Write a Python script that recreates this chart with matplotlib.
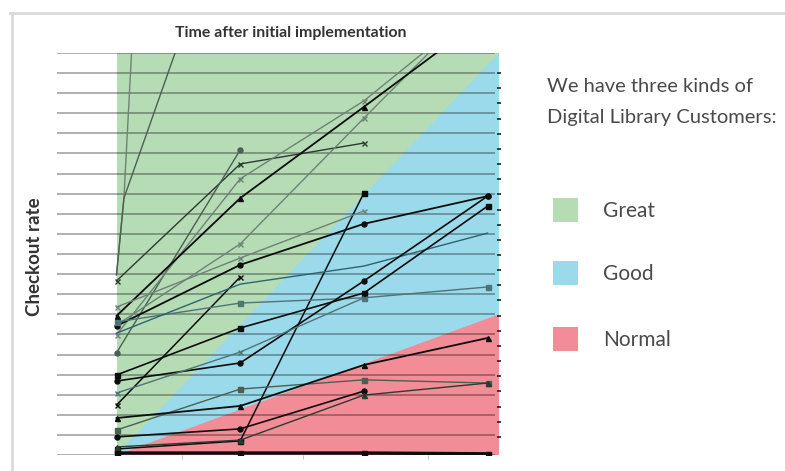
import numpy as np
import matplotlib
matplotlib.use("Agg")
import matplotlib.pyplot as plt
from matplotlib.patches import Rectangle, Polygon
from matplotlib.lines import Line2D

plt.rcParams['font.family'] = ['Lato', 'DejaVu Sans']

# ---------------- data ----------------
times = [0, 1, 2, 3]
early_times = [0, 0.06, 1]
nan = np.nan

# checkout rate (0-100 scale) of each library customer over time
steep_a = [44.8, 63.9, 616]
steep_b = [44.8, 63.9, 146]
cust_03 = [43.3, 72.4, 77.6, nan]
cust_04 = [25.4, 75.9, nan, nan]
cust_05 = [29.9, 68.7, 88.1, 113]
cust_06 = [32.3, 52.5, 83.8, 114.7]
cust_07 = [34.6, 63.9, 86.6, 109.5]
cust_08 = [32.1, 47.3, 57.5, 64.4]
cust_09 = [1.5, 3.5, 65.2, nan]
cust_10 = [12.4, 44.3, nan, nan]
cust_11 = [33.1, 37.8, 39.1, 41.8]
cust_12 = [30.3, 42.5, 47.0, 55.2]
cust_13 = [36.8, 49.0, 60.7, nan]
cust_14 = [19.9, 31.6, 40.3, 61.9]
cust_15 = [18.4, 22.9, 43.3, 64.4]
cust_16 = [15.4, 25.6, 39.1, nan]
cust_17 = [6.2, 16.4, 18.7, 17.9]
cust_18 = [9.2, 12.2, 22.4, 29.1]
cust_19 = [4.5, 6.5, 15.9, nan]
cust_20 = [2.0, 3.7, 14.9, 17.9]
cust_21 = [0.5, 0.5, 0.5, 0.3]

# customer-type zones: upper edge of each zone at the start and at the end
zone_names = ["Great", "Good", "Normal"]
zone_colors = ["#b5dcb4", "#9bdaea", "#f28c97"]
zone_top_start = [100, 0, 0]
zone_top_end = [100, 100, 35]

# ---------------- figure ----------------
W, H = 785, 471
fig = plt.figure(figsize=(W / 100, H / 100), dpi=100)
ax = fig.add_axes([57 / W, (H - 455) / H, (499 - 57) / W, (455 - 53) / H])
x_lo, x_hi = -0.481, 3.092
ax.set_xlim(x_lo, x_hi)
ax.set_ylim(0, 100)

# zones
for top0, top1, col in zip(zone_top_start, zone_top_end, zone_colors):
    if top0 == top1:
        poly = Polygon([[0, 0], [0, top0], [x_hi, top1], [x_hi, 0]], closed=True,
                       facecolor=col, edgecolor='none', zorder=0)
    else:
        poly = Polygon([[0, top0], [x_hi, top1], [x_hi, 0]], closed=True,
                       facecolor=col, edgecolor='none', zorder=0)
    ax.add_patch(poly)

# grid lines
for v in range(0, 101, 5):
    ax.plot([x_lo, 3.06], [v, v], color=(0, 0, 0, 0.36), lw=1.2, zorder=1,
            solid_capstyle='butt')

black = '#0d0d0d'
dark = '#2c3a30'
mid = '#4b5f52'
light = '#6e8376'
teal = '#2e6270'
tealg = '#4f7478'

series = [
    (early_times, steep_a, light, None, 1.0),
    (early_times, steep_b, mid, None, 1.0),
    (times, cust_03, dark, 'x', 1.0),
    (times, cust_04, mid, 'o', 1.0),
    (times, cust_05, light, 'x', 1.0),
    (times, cust_06, light, 'x', 1.0),
    (times, cust_07, black, '^', 1.3),
    (times, cust_08, black, 'o', 1.3),
    (times, cust_09, black, 's', 1.1),
    (times, cust_10, black, 'x', 1.1),
    (times, cust_11, tealg, 's', 1.0),
    (times, cust_12, teal, None, 1.0),
    (times, cust_13, light, 'x', 1.0),
    (times, cust_14, black, 's', 1.2),
    (times, cust_15, black, 'o', 1.2),
    (times, cust_16, tealg, 'x', 1.0),
    (times, cust_17, mid, 's', 1.0),
    (times, cust_18, black, '^', 1.3),
    (times, cust_19, black, 'o', 1.2),
    (times, cust_20, dark, '^', 1.0),
    (times, cust_21, black, 's', 2.4),
]
for xs, ys, col, mk, lw in series:
    ax.plot(xs, ys, color=col, lw=lw, marker=mk, markersize=3.6,
            markeredgewidth=1.0, zorder=3, clip_on=True)

for s in ax.spines.values():
    s.set_visible(False)
ax.set_yticks([])
ax.set_xticks([0.53, 1.51, 2.52])
ax.set_xticklabels([])
ax.tick_params(axis='x', length=3, width=0.8, color='#c8c8c8', direction='out')

# right-hand tick dashes
ax2 = ax.twinx()
ax2.set_ylim(0, 100)
ax2.set_yticks(np.linspace(4.5, 95, 25))
ax2.set_yticklabels([])
ax2.tick_params(axis='y', length=3, width=1.2, color='#222222', direction='inout')
for s in ax2.spines.values():
    s.set_visible(False)

# titles
fig.text(291 / W, 1 - 33 / H, "Time after initial implementation", ha='center',
         va='center', fontsize=11.4, fontweight='bold', color='#333333')
fig.text(35 / W, 1 - 257 / H, "Checkout rate", ha='center', va='center',
         rotation=90, fontsize=13.5, fontweight='bold', color='#333333')

# right-hand explanation
fig.text(547 / W, 1 - 87 / H, "We have three kinds of", ha='left', va='center',
         fontsize=14.5, color='#4a4a4a')
fig.text(547 / W, 1 - 117 / H, "Digital Library Customers:", ha='left', va='center',
         fontsize=14.5, color='#4a4a4a')
for i, (name, col) in enumerate(zip(zone_names, zone_colors)):
    yc = [210, 273, 339][i]
    fig.patches.append(Rectangle((553 / W, 1 - (yc + 12) / H), 25 / W, 24 / H,
                                 transform=fig.transFigure, facecolor=col,
                                 edgecolor='none'))
    fig.text(603 / W, 1 - (yc + 1) / H, name, ha='left', va='center',
             fontsize=15, color='#4a4a4a')

# light frame (top and left)
fig.add_artist(Line2D([10 / W, 1], [1 - 13 / H, 1 - 13 / H], transform=fig.transFigure,
                      color='#dadada', lw=2))
fig.add_artist(Line2D([12 / W, 12 / W], [0, 1 - 13 / H], transform=fig.transFigure,
                      color='#dadada', lw=2))

fig.savefig("out.png", dpi=100)
